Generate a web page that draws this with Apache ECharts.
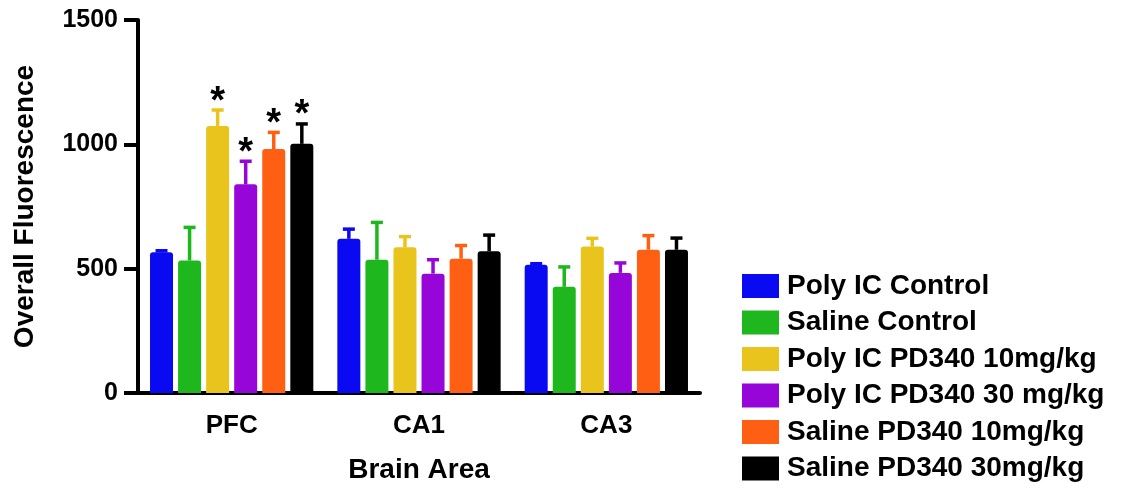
<!DOCTYPE html>
<html>
<head>
<meta charset="utf-8">
<script src="https://cdn.jsdelivr.net/npm/echarts@6/dist/echarts.min.js"></script>
<style>
html,body{margin:0;padding:0;background:#fff;}
#chart{width:1121px;height:489px;}
</style>
</head>
<body>
<div id="chart"></div>
<script>
// ---- data ----
var categories = ['PFC', 'CA1', 'CA3'];
var seriesNames = ['Poly IC Control', 'Saline Control', 'Poly IC PD340 10mg/kg', 'Poly IC PD340 30 mg/kg', 'Saline PD340 10mg/kg', 'Saline PD340 30mg/kg'];
var polyICControl      = [566, 620, 516];
var salineControl      = [533, 536, 427];
var polyIC10           = [1074, 586, 589];
var polyIC30           = [839, 480, 483];
var saline10           = [981, 540, 576];
var saline30           = [1002, 570, 576];
var polyICControlErr   = [6, 39, 4];
var salineControlErr   = [133, 150, 80];
var polyIC10Err        = [64, 43, 33];
var polyIC30Err        = [93, 56, 40];
var saline10Err        = [67, 53, 57];
var saline30Err        = [80, 65, 47];
var significant        = [[false, false, false], [false, false, false], [true, false, false], [true, false, false], [true, false, false], [true, false, false]];
var yTicks = [0, 500, 1000, 1500];

// ---- styling ----
var colors = ['#0a0af2', '#1eb81e', '#e8c41c', '#9606d8', '#ff5f12', '#000000'];
var FONT = '"Liberation Sans", Arial, Helvetica, sans-serif';
var BAR_W = 23;
var GAP_PCT = 0.22;

var values = [polyICControl, salineControl, polyIC10, polyIC30, saline10, saline30];
var errs = [polyICControlErr, salineControlErr, polyIC10Err, polyIC30Err, saline10Err, saline30Err];

var barSeries = seriesNames.map(function (n, i) {
  return {
    name: n,
    type: 'bar',
    data: values[i],
    barWidth: BAR_W,
    barGap: (GAP_PCT * 100) + '%',
    itemStyle: { color: colors[i], borderRadius: [3, 3, 0, 0] },
    z: 2
  };
});

var errData = [];
for (var s = 0; s < values.length; s++) {
  for (var c = 0; c < categories.length; c++) {
    errData.push([c, values[s][c], errs[s][c], s, significant[s][c] ? 1 : 0]);
  }
}

var nSeries = values.length;
var gapPx = BAR_W * GAP_PCT;
var total = nSeries * BAR_W + (nSeries - 1) * gapPx;

var errSeries = {
  type: 'custom',
  name: 'err',
  z: 5,
  data: errData,
  encode: { x: 0, y: 1 },
  renderItem: function (params, api) {
    var cat = api.value(0), val = api.value(1), e = api.value(2), si = api.value(3), sig = api.value(4);
    var base = api.coord([cat, val]);
    var top = api.coord([cat, val + e]);
    var x = base[0] - total / 2 + BAR_W / 2 + si * (BAR_W + gapPx);
    var col = colors[si];
    var children = [
      { type: 'line', shape: { x1: x, y1: base[1], x2: x, y2: top[1] }, style: { stroke: col, lineWidth: 3.5 } },
      { type: 'line', shape: { x1: x - 6, y1: top[1], x2: x + 6, y2: top[1] }, style: { stroke: col, lineWidth: 3.5 } }
    ];
    if (sig) {
      children.push({
        type: 'text',
        style: { x: x, y: top[1] - 8, text: '*', fill: '#000', font: 'bold 38px ' + FONT, align: 'center', verticalAlign: 'middle' }
      });
    }
    return { type: 'group', children: children };
  }
};

var chart = echarts.init(document.getElementById('chart'), null, { renderer: 'canvas' });
chart.setOption({
  animation: false,
  backgroundColor: '#ffffff',
  textStyle: { fontFamily: FONT },
  grid: { left: 138, right: 421, top: 20, bottom: 92, containLabel: false },
  legend: {
    data: seriesNames,
    orient: 'vertical',
    left: 742,
    top: 272,
    padding: 0,
    itemWidth: 37,
    itemHeight: 24,
    itemGap: 8.5,
    icon: 'rect',
    textStyle: { fontSize: 28, fontWeight: 'bold', color: '#000', fontFamily: FONT, padding: [0, 0, 0, 3], lineHeight: 28 }
  },
  xAxis: {
    type: 'category',
    data: categories,
    name: 'Brain Area',
    nameLocation: 'middle',
    nameGap: 63,
    nameTextStyle: { fontSize: 28, fontWeight: 'bold', color: '#000', fontFamily: FONT },
    axisLine: { lineStyle: { color: '#000', width: 4 } },
    axisTick: { alignWithLabel: true, length: 14, lineStyle: { color: '#000', width: 4 } },
    axisLabel: { fontSize: 26, fontWeight: 'bold', color: '#000', margin: 20, fontFamily: FONT }
  },
  yAxis: {
    type: 'value',
    min: yTicks[0],
    max: yTicks[yTicks.length - 1],
    interval: yTicks[1] - yTicks[0],
    name: 'Overall Fluorescence',
    nameLocation: 'middle',
    nameGap: 99,
    nameTextStyle: { fontSize: 28, fontWeight: 'bold', color: '#000', fontFamily: FONT },
    splitLine: { show: false },
    axisLine: { show: true, lineStyle: { color: '#000', width: 4 } },
    axisTick: { show: true, length: 14, lineStyle: { color: '#000', width: 4 } },
    axisLabel: { fontSize: 25, fontWeight: 'bold', color: '#000', margin: 20, fontFamily: FONT, formatter: function (v) { return String(v); } }
  },
  series: barSeries.concat([errSeries])
});
</script>
</body>
</html>
